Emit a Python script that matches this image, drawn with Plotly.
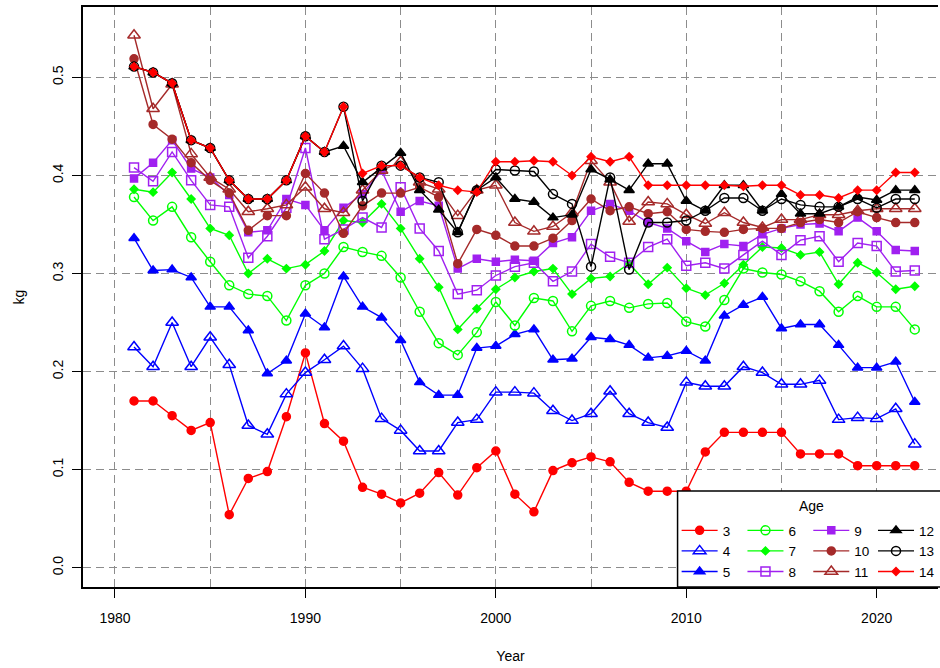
import plotly.graph_objects as go

years = list(range(1981, 2023))

age3 = [0.170,0.170,0.155,0.140,0.148,0.054,0.091,0.098,0.154,0.219,
        0.147,0.129,0.082,0.075,0.066,0.076,0.097,0.074,0.102,0.119,
        0.075,0.057,0.099,0.107,0.113,0.108,0.087,0.078,0.078,0.078,
        0.118,0.138,0.138,0.138,0.138,0.116,0.116,0.116,0.104,0.104,
        0.104,0.104]
age4 = [0.225,0.205,0.250,0.205,0.235,0.207,0.145,0.136,0.177,0.199,
        0.212,0.226,0.203,0.152,0.140,0.119,0.119,0.148,0.151,0.179,
        0.179,0.178,0.160,0.150,0.157,0.180,0.157,0.148,0.143,0.189,
        0.185,0.185,0.205,0.199,0.187,0.187,0.191,0.151,0.153,0.152,
        0.162,0.126]
age5 = [0.336,0.303,0.304,0.296,0.266,0.266,0.242,0.198,0.211,0.259,
        0.245,0.297,0.266,0.255,0.232,0.189,0.176,0.176,0.224,0.226,
        0.238,0.243,0.212,0.213,0.235,0.233,0.227,0.214,0.216,0.221,
        0.211,0.257,0.268,0.276,0.244,0.248,0.248,0.227,0.204,0.204,
        0.210,0.169]
age6 = [0.378,0.354,0.368,0.337,0.312,0.288,0.279,0.277,0.252,0.288,
        0.300,0.327,0.322,0.318,0.296,0.261,0.229,0.217,0.240,0.271,
        0.247,0.275,0.272,0.241,0.267,0.272,0.265,0.269,0.270,0.251,
        0.246,0.273,0.305,0.301,0.299,0.292,0.282,0.261,0.277,0.266,
        0.266,0.243]
age7 = [0.386,0.383,0.403,0.376,0.346,0.339,0.300,0.315,0.305,0.309,
        0.323,0.354,0.352,0.371,0.346,0.315,0.286,0.243,0.264,0.284,
        0.296,0.302,0.305,0.279,0.295,0.297,0.310,0.289,0.306,0.285,
        0.278,0.290,0.309,0.327,0.326,0.319,0.322,0.289,0.311,0.301,
        0.284,0.287]
age8 = [0.408,0.394,0.424,0.395,0.370,0.368,0.316,0.338,0.367,0.428,
        0.335,0.345,0.357,0.347,0.388,0.346,0.323,0.279,0.283,0.298,
        0.307,0.311,0.292,0.302,0.330,0.317,0.311,0.327,0.335,0.308,
        0.311,0.305,0.319,0.333,0.319,0.334,0.338,0.312,0.331,0.328,
        0.302,0.303]
age9 = [0.397,0.413,0.436,0.407,0.398,0.380,0.342,0.344,0.376,0.370,
        0.344,0.367,0.381,0.405,0.363,0.374,0.369,0.305,0.315,0.312,
        0.314,0.313,0.331,0.337,0.364,0.371,0.364,0.352,0.346,0.333,
        0.322,0.330,0.328,0.340,0.346,0.350,0.351,0.343,0.357,0.343,
        0.324,0.323]
age10 = [0.519,0.452,0.437,0.413,0.395,0.382,0.344,0.359,0.359,0.402,
         0.382,0.341,0.369,0.382,0.382,0.388,0.378,0.310,0.345,0.339,
         0.328,0.328,0.336,0.354,0.376,0.364,0.368,0.361,0.363,0.345,
         0.343,0.342,0.345,0.346,0.346,0.352,0.355,0.352,0.363,0.357,
         0.352,0.352]
age11 = [0.543,0.468,0.493,0.422,0.398,0.386,0.363,0.366,0.370,0.388,
         0.366,0.362,0.385,0.405,0.414,0.393,0.386,0.359,0.385,0.390,
         0.352,0.343,0.348,0.362,0.415,0.393,0.353,0.373,0.371,0.360,
         0.351,0.362,0.352,0.347,0.355,0.355,0.360,0.360,0.364,0.366,
         0.366,0.366]
age12 = [0.511,0.505,0.494,0.436,0.428,0.395,0.376,0.376,0.395,0.440,
         0.424,0.430,0.393,0.408,0.423,0.385,0.365,0.342,0.385,0.398,
         0.376,0.373,0.357,0.360,0.406,0.396,0.385,0.412,0.412,0.374,
         0.364,0.390,0.390,0.364,0.381,0.361,0.361,0.368,0.378,0.375,
         0.385,0.385]
age13 = [0.511,0.505,0.494,0.436,0.428,0.395,0.376,0.376,0.395,0.440,
         0.424,0.470,0.374,0.410,0.410,0.398,0.393,0.342,0.385,0.406,
         0.405,0.404,0.381,0.371,0.307,0.398,0.304,0.352,0.352,0.354,
         0.364,0.377,0.377,0.364,0.376,0.370,0.368,0.368,0.376,0.367,
         0.376,0.376]
age14 = [0.511,0.505,0.494,0.436,0.428,0.395,0.376,0.376,0.395,0.440,
         0.424,0.470,0.402,0.410,0.410,0.398,0.390,0.385,0.383,0.414,
         0.414,0.415,0.414,0.400,0.419,0.414,0.419,0.390,0.390,0.390,
         0.390,0.390,0.389,0.390,0.390,0.380,0.380,0.377,0.385,0.385,
         0.403,0.403]

ages = ["3", "4", "5", "6", "7", "8", "9", "10", "11", "12", "13", "14"]
values = [age3, age4, age5, age6, age7, age8, age9, age10, age11, age12, age13, age14]
colors = ["#FF0000", "#0000FF", "#0000FF", "#00FF00", "#00FF00", "#A020F0",
          "#A020F0", "#A52A2A", "#A52A2A", "#000000", "#000000", "#FF0000"]
symbols = ["circle", "triangle-up-open", "triangle-up", "circle-open", "diamond",
           "square-open", "square", "circle", "triangle-up-open", "triangle-up",
           "circle-open", "diamond"]
sizes = [8, 11, 9, 9, 6, 9, 7, 8, 11, 9, 9, 6]
legend_ids = ["legend", "legend", "legend", "legend2", "legend2", "legend2",
              "legend3", "legend3", "legend3", "legend4", "legend4", "legend4"]

FONT = "Liberation Sans, Arial, sans-serif"

fig = go.Figure()
for name, vals, col, sym, sz, lg in zip(ages, values, colors, symbols, sizes, legend_ids):
    fig.add_trace(go.Scatter(
        x=years, y=vals, name=name, mode="lines+markers",
        line=dict(color=col, width=1.4),
        marker=dict(color=col, symbol=sym, size=sz, line=dict(color=col, width=1.5)),
        legend=lg,
    ))

grid = dict(showgrid=True, gridcolor="#8c8c8c", gridwidth=1.2, griddash="8px,5px")

fig.update_layout(
    width=940, height=668,
    margin=dict(l=83, r=0, t=7, b=81),
    paper_bgcolor="white", plot_bgcolor="white",
    font=dict(family=FONT, size=14, color="black"),
    xaxis=dict(
        range=[1978.32, 2023.22], tick0=1980, dtick=10,
        ticks="outside", ticklen=9, tickcolor="black", tickwidth=1.3,
        showline=True, linecolor="black", linewidth=1.5, mirror=True,
        zeroline=False, ticklabelstandoff=8,
        minor=dict(dtick=5, tick0=1980, showgrid=True, gridcolor="#8c8c8c",
                   gridwidth=1.2, griddash="8px,5px", ticks=""),
        title=dict(text="Year", standoff=27, font=dict(size=14)),
        **grid,
    ),
    yaxis=dict(
        range=[-0.0197, 0.5718], tick0=0, dtick=0.1, tickformat=".1f",
        tickangle=-90, ticks="outside", ticklen=9, tickcolor="black", tickwidth=1.3,
        showline=True, linecolor="black", linewidth=1.5, mirror=False,
        zeroline=False, ticklabelstandoff=4,
        title=dict(text="kg", standoff=22, font=dict(size=14)),
        **grid,
    ),
    shapes=[dict(type="rect", xref="paper", yref="paper",
                 x0=0.6954, x1=1.05, y0=0, y1=0.1655,
                 line=dict(color="black", width=1.5), fillcolor="white", layer="above")],
    annotations=[dict(text="Age", xref="paper", yref="paper", x=0.8518, y=0.1397,
                      showarrow=False, font=dict(size=14), xanchor="center", yanchor="middle")],
)

leg_common = dict(xanchor="left", yanchor="top", bgcolor="rgba(0,0,0,0)",
                  borderwidth=0, font=dict(size=13.5), tracegroupgap=0, itemwidth=36,
                  traceorder="normal")
fig.update_layout(
    legend=dict(x=0.6943, y=0.124, **leg_common),
    legend2=dict(x=0.7713, y=0.124, **leg_common),
    legend3=dict(x=0.8483, y=0.124, **leg_common),
    legend4=dict(x=0.9242, y=0.124, **leg_common),
)

fig.write_html("out.html", config={"displayModeBar": False},
               post_script="document.body.style.margin='0px';")
